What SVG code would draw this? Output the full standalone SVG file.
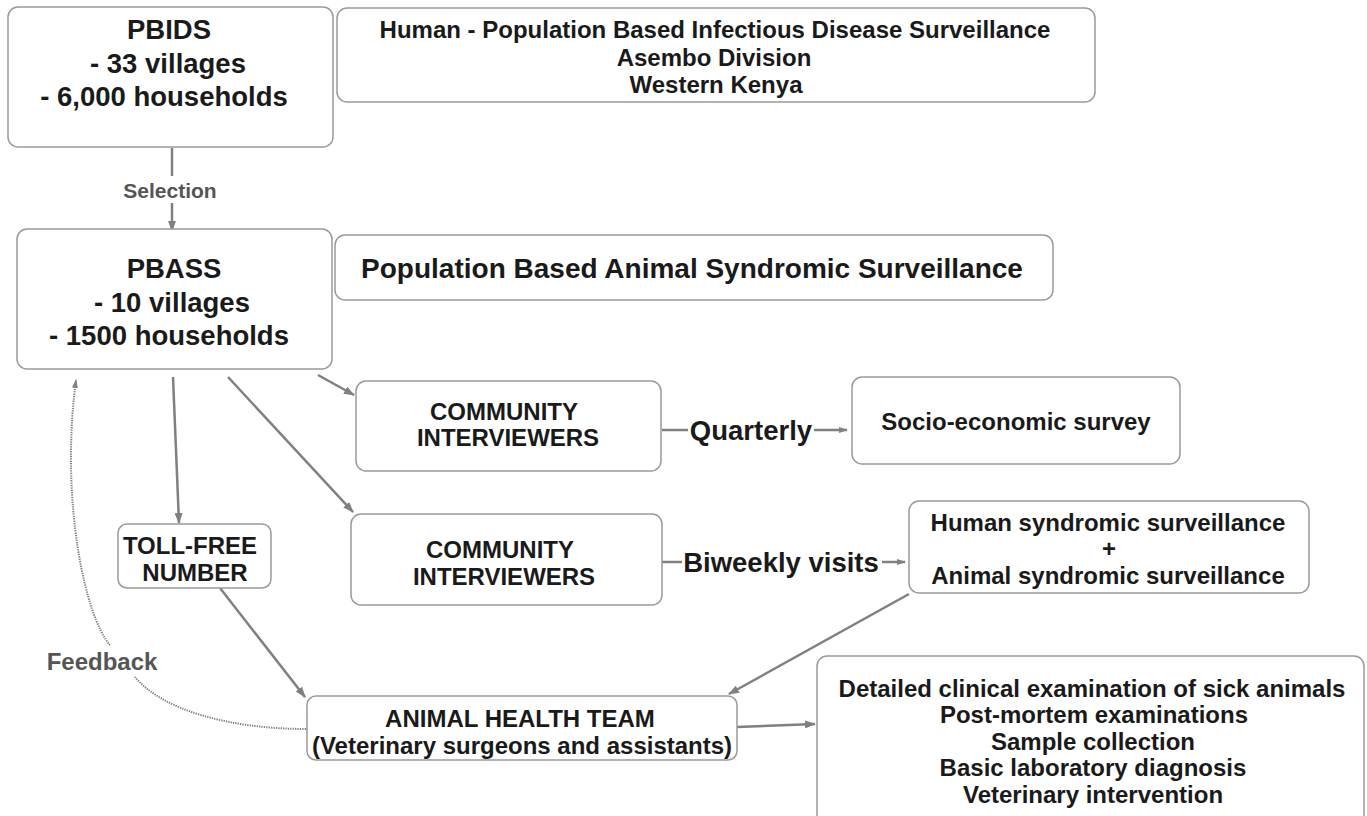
<svg xmlns="http://www.w3.org/2000/svg" width="1367" height="816" viewBox="0 0 1367 816">
<defs>
<style>
.box{fill:#fff;stroke:#9a9a9a;stroke-width:1.5}
.t{font-family:"Liberation Sans",Arial,sans-serif;font-weight:bold;fill:#1a1a1a;text-anchor:middle;font-size:24px}
.big{font-size:27.5px}
.c{stroke:#808080;stroke-width:2.5;fill:none}
.d{stroke:#808080;stroke-width:2;fill:none;stroke-dasharray:1.3,1.1}
.g{fill:#555}
</style>
<marker id="ah" markerWidth="11" markerHeight="8" refX="10" refY="4" orient="auto" markerUnits="userSpaceOnUse">
<path d="M0,0 L11,4 L0,8 Z" fill="#808080"/>
</marker>
<marker id="ahs" markerWidth="9" markerHeight="6" refX="8" refY="3" orient="auto" markerUnits="userSpaceOnUse">
<path d="M0,0 L9,3 L0,6 Z" fill="#808080"/>
</marker>
</defs>
<rect width="1367" height="816" fill="#fff"/>

<g id="connectors">
<line class="c" x1="172" y1="148" x2="172" y2="176"/>
<line class="c" x1="172" y1="203" x2="172" y2="231" marker-end="url(#ah)"/>
<line class="c" x1="173" y1="377" x2="179" y2="523" marker-end="url(#ah)"/>
<line class="c" x1="228" y1="377" x2="353" y2="512" marker-end="url(#ah)"/>
<line class="c" x1="318" y1="375" x2="354" y2="395" marker-end="url(#ah)"/>
<line class="c" x1="662" y1="430" x2="688" y2="430"/>
<line class="c" x1="814" y1="430" x2="847" y2="430" stroke-width="2" marker-end="url(#ahs)"/>
<line class="c" x1="662" y1="562" x2="682" y2="562"/>
<line class="c" x1="882" y1="562" x2="905" y2="562" stroke-width="2" marker-end="url(#ahs)"/>
<line class="c" x1="220" y1="588" x2="305" y2="697" marker-end="url(#ah)"/>
<line class="c" x1="909" y1="594" x2="729" y2="694" marker-end="url(#ah)"/>
<line class="c" x1="737" y1="727" x2="815" y2="724" marker-end="url(#ah)"/>
<path class="d" d="M306,729 C230,729 162,710 135,677"/>
<path class="d" d="M110,645 C85,617 60,500 76,380" marker-end="url(#ahs)"/>
<text class="t g" x="170" y="198" style="font-size:21px">Selection</text>
<text class="t g" x="102" y="670">Feedback</text>
<text class="t big" x="751" y="440">Quarterly</text>
<text class="t big" x="781" y="572">Biweekly visits</text>
</g>

<g id="pbids">
<rect class="box" x="8" y="7" width="325" height="140" rx="10"/>
<text class="t big" x="169" y="39">PBIDS</text>
<text class="t big" x="168" y="73">- 33 villages</text>
<text class="t big" x="164" y="106">- 6,000 households</text>
</g>

<g id="human">
<rect class="box" x="337" y="8" width="758" height="94" rx="10"/>
<text class="t" x="715" y="38">Human - Population Based Infectious Disease Surveillance</text>
<text class="t" x="714" y="66">Asembo Division</text>
<text class="t" x="716" y="93">Western Kenya</text>
</g>

<g id="pbass">
<rect class="box" x="17" y="229" width="315" height="140" rx="10"/>
<text class="t big" x="174" y="278">PBASS</text>
<text class="t big" x="172" y="312">- 10 villages</text>
<text class="t big" x="169" y="345">- 1500 households</text>
</g>

<g id="population">
<rect class="box" x="335" y="235" width="718" height="65" rx="10"/>
<text class="t" x="692" y="278" style="font-size:28px">Population Based Animal Syndromic Surveillance</text>
</g>

<g id="ci1">
<rect class="box" x="356" y="381" width="305" height="90" rx="10"/>
<text class="t" x="504" y="420">COMMUNITY</text>
<text class="t" x="508" y="446">INTERVIEWERS</text>
</g>

<g id="socio">
<rect class="box" x="852" y="377" width="328" height="87" rx="10"/>
<text class="t" x="1016" y="430">Socio-economic survey</text>
</g>

<g id="ci2">
<rect class="box" x="351" y="514" width="311" height="91" rx="10"/>
<text class="t" x="500" y="558">COMMUNITY</text>
<text class="t" x="504" y="585">INTERVIEWERS</text>
</g>

<g id="syndromic">
<rect class="box" x="909" y="501" width="400" height="92" rx="10"/>
<text class="t" x="1108" y="531">Human syndromic surveillance</text>
<text class="t" x="1109" y="557">+</text>
<text class="t" x="1108" y="584">Animal syndromic surveillance</text>
</g>

<g id="tollfree">
<rect class="box" x="118" y="524" width="153" height="64" rx="9"/>
<text class="t" x="190" y="554">TOLL-FREE</text>
<text class="t" x="195" y="581">NUMBER</text>
</g>

<g id="animalhealth">
<rect class="box" x="307" y="696" width="430" height="64" rx="9"/>
<text class="t" x="520" y="727">ANIMAL HEALTH TEAM</text>
<text class="t" x="522" y="754">(Veterinary surgeons and assistants)</text>
</g>

<g id="activities">
<rect class="box" x="817" y="656" width="547" height="190" rx="10"/>
<text class="t" x="1092" y="697">Detailed clinical examination of sick animals</text>
<text class="t" x="1094" y="723">Post-mortem examinations</text>
<text class="t" x="1093" y="750">Sample collection</text>
<text class="t" x="1093" y="776">Basic laboratory diagnosis</text>
<text class="t" x="1093" y="803">Veterinary intervention</text>
</g>
</svg>
